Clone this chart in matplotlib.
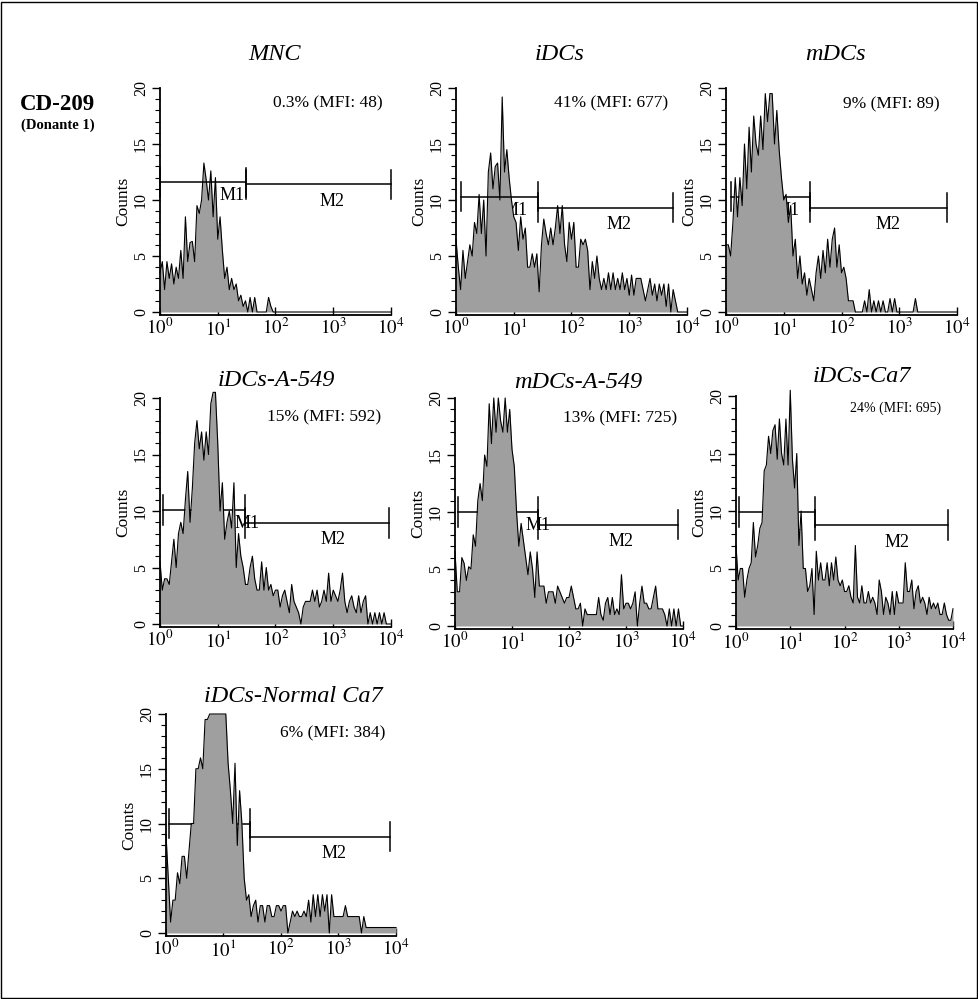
"""CD-209 flow cytometry histograms (Donante 1) - seven panels on a shared log axis."""

import matplotlib
matplotlib.use("Agg")
import matplotlib.pyplot as plt
import numpy as np
from matplotlib.patches import Rectangle
from matplotlib.ticker import FixedFormatter, FixedLocator, LogLocator, MultipleLocator, NullFormatter

plt.rcParams["font.family"] = ["Liberation Serif", "DejaVu Serif"]
plt.rcParams["mathtext.fontset"] = "stix"

# Counts per channel; the channels are evenly spaced on the log axis from 10^0 to 10^4.
mnc = [3.5, 4.5, 2, 4.5, 3, 4.3, 2.5, 4, 3, 5.5,
       3, 8.5, 4.5, 6.2, 6.3, 4.5, 9.5, 8.8, 10, 13.3,
       11.8, 10, 12.6, 8.5, 12, 6.5, 8.5, 5.5, 3, 4,
       2, 3, 2, 2.5, 1, 1.5, 0.5, 1, 0, 1.3,
       0, 1.3, 0, 0, 0, 0, 0, 1.3, 0.5, 0] + [0] * 51

idcs = [6.5, 4, 2, 5.5, 3, 4.5, 6, 5, 8, 7,
        10.5, 7, 10, 5, 12.5, 14.2, 11, 13, 13.3, 10,
        19.2, 12.5, 14.5, 12, 10, 8.5, 8, 5.5, 8.5, 6.5,
        7.5, 4, 4, 5.2, 4, 5.2, 1.8, 6, 8.3, 7,
        6, 7.5, 6, 7.5, 9.5, 7, 9.5, 6, 4.5, 8,
        6.5, 8, 4, 4, 6.5, 6, 6.5, 5.5, 2, 4.5,
        3, 5, 3, 2, 3, 2, 3.5, 2, 3.5, 2,
        3, 2, 3.5, 2, 3, 1.5, 3.3, 1.5, 3, 3,
        3, 2, 1, 2, 3, 1.5, 2.5, 1, 2.5, 1.5,
        2.5, 0.5, 2.5, 0, 2, 1, 0, 0, 0, 0, 0]

mdcs = [6, 6, 5, 8, 12, 8.5, 12, 9.5, 15, 11,
        16.5, 12.5, 17.5, 15, 14, 17.5, 14.5, 19.5, 17, 19.5,
        19.5, 15, 18, 14.5, 12, 10, 10.5, 8, 9.5, 5,
        6.5, 3, 5, 2.5, 3.5, 1.5, 3, 2, 1, 3.5,
        5, 3, 5.5, 3.5, 6.5, 4, 6.5, 7.5, 4, 6,
        3.5, 4, 3, 1, 1, 1, 0, 0, 0, 0,
        1, 0, 2, 0, 1, 0, 1, 0, 1, 0,
        0, 1.2, 0, 1.2, 0, 0, 0, 0, 0, 0,
        0, 0, 1.2, 0, 0, 0, 0, 0, 0, 0,
        0, 0, 0, 0, 0, 0, 0, 0, 0, 0, 0]

idcs_a549 = [5.5, 3, 4, 4, 3.5, 5.5, 7.5, 5, 8, 9,
             8, 11, 13.5, 9, 12, 16, 18, 15.5, 17, 14.5,
             17, 15, 19.5, 20.5, 20.5, 16, 10, 12.5, 7.5, 9,
             10, 8.5, 12.5, 5, 8, 6, 5, 3.5, 3.5, 5,
             6, 4, 3, 3, 5.5, 3, 5, 3, 3.5, 2.5,
             3, 3, 1.5, 2.5, 3, 2, 1, 3.5, 2, 1.5,
             1, 0, 1.5, 2, 2, 2, 3, 2, 3, 1.5,
             2, 3, 2, 4.5, 2, 3, 2.5, 2, 3, 4.5,
             2, 1, 2, 2.5, 1.5, 1, 2.5, 1, 2, 2.5,
             0, 1, 0, 1, 0, 1, 0, 1, 0, 0, 0]

mdcs_a549 = [6.5, 3, 3, 6, 5.5, 4, 5.2, 5, 8, 7,
             11, 12.5, 11, 15, 14, 19.5, 16, 20, 17, 20,
             18, 17, 20, 17, 19, 15.5, 14, 10, 7, 9,
             7.5, 6, 4.5, 6.5, 5, 2.5, 6.5, 3.5, 3.5, 3.5,
             2, 3, 3, 3, 2, 3.5, 3, 2.5, 2, 2.5,
             2.5, 3.5, 2.5, 1.5, 1.5, 2, 0, 1.5, 1, 1,
             1, 1, 1, 2.5, 1, 0.5, 2, 2.5, 1, 2.5,
             1, 1.5, 1, 4.5, 1.5, 2, 2, 1.5, 2, 3,
             0, 2, 3.5, 2, 2, 1.5, 1.5, 2.5, 3.5, 1.5,
             1.5, 1.5, 1, 0, 1.5, 0, 1.5, 0, 1.5, 0, 0]

idcs_ca7 = [7, 4, 5, 5, 2.5, 4, 5, 5.5, 9, 6,
            7, 8.5, 9, 13.5, 14, 16.5, 15, 17, 17.5, 14.5,
            18, 15, 14, 18, 14, 20.5, 14.5, 12, 15, 7,
            10, 5, 5, 3, 3.5, 5, 1, 6.5, 4, 5.5,
            4, 4, 5.5, 3.5, 5.5, 4, 6, 4, 3.5, 4,
            3, 3, 3.5, 2.5, 2, 7, 2.5, 2, 3.5, 2,
            2, 3, 2, 2.5, 2, 1, 4, 3, 1, 2.5,
            2, 1, 3, 1, 3, 2, 2, 2, 5.5, 3,
            3, 4, 1.5, 3, 3.5, 2, 2.5, 2, 1, 2.5,
            1.5, 2, 1.5, 2, 1, 1, 2, 1, 0.5, 0.5, 1.5]

idcs_normal_ca7 = [9, 5, 1, 3, 3, 5.5, 4.5, 7, 7, 5,
                   7.5, 10, 10, 15, 15, 16, 15, 19.5, 19.5, 20,
                   20, 20, 20, 20, 20, 20, 20, 15.5, 13, 10,
                   15.5, 8, 13, 10, 5, 3, 3.5, 1.5, 2.5, 3,
                   1, 2.5, 2.5, 1, 2.5, 2.5, 1.5, 1.5, 2.5, 2.5,
                   2, 2.5, 2.5, 0, 1, 2, 1.5, 2, 1.5, 1.5,
                   2, 1.5, 3, 1, 3.5, 1.5, 3.5, 1.5, 3.5, 2,
                   3.5, 0, 3.5, 1.5, 1.5, 1.5, 1.5, 1.5, 2.5, 1.5,
                   1.5, 1.5, 1.5, 1.5, 1.5, 0, 1.5, 0.5, 0.5, 0.5,
                   0.5, 0.5, 0.5, 0.5, 0.5, 0.5, 0.5, 0.5, 0.5, 0.5, 0.5]

titles = ["MNC", "iDCs", "mDCs", "iDCs-A-549", "mDCs-A-549", "iDCs-Ca7", "iDCs-Normal Ca7"]
stats = ["0.3% (MFI: 48)", "41% (MFI: 677)", "9% (MFI: 89)", "15% (MFI: 592)",
         "13% (MFI: 725)", "24% (MFI: 695)", "6% (MFI: 384)"]
series = [mnc, idcs, mdcs, idcs_a549, mdcs_a549, idcs_ca7, idcs_normal_ca7]

# marker gates (start, end, height) in fluorescence units / counts
m1_gates = [(1.0, 30.6, 11.6), (1.2, 26, 10.3), (1.2, 28.6, 10.3), (1.14, 30, 10.1),
            (1.11, 28.2, 10.0), (1.15, 29, 9.9), (1.11, 29.2, 10.0)]
m2_gates = [(30.6, 10000, 11.4), (26, 5700, 9.3), (28.6, 6700, 9.3), (30, 9100, 8.95),
            (28.2, 8050, 8.9), (29, 8100, 8.8), (29.2, 7900, 8.8)]

decade_ticks = [1, 10, 100, 1000, 10000]
decade_labels = [r"$10^{0}$", r"$10^{1}$", r"$10^{2}$", r"$10^{3}$", r"$10^{4}$"]

# ---- layout (pixels in the 979x999 canvas) ----
W, H = 979, 999
# left, y of count 20, right, y of count 0
boxes = [(160, 88, 391, 312), (456, 88, 687, 312), (726, 88, 957, 312),
         (160, 398, 391, 624), (455, 398, 683, 626), (736, 396, 953, 626),
         (166, 714, 396, 933)]
title_xy = [(275, 55), (560, 55), (835, 55), (276, 381), (578, 383), (862, 376), (293, 697)]
stat_xy = [(328, 103), (611, 103), (891, 104), (324, 417), (620, 418), (896, 408), (333, 733)]
stat_size = [12.5, 12.5, 12.5, 12.5, 12.5, 10, 12.5]
m1_label_dec = [1.24, 1.02, 1.05, 1.51, 1.46, 1.0, 1.0]
m2_label_dec = [2.97, 2.83, 2.8, 2.99, 2.92, 2.97, 2.92]
gate_on_top = [True, True, False, False, False, False, False]
YMIN = -0.3
FILL = "#9f9f9f"

fig = plt.figure(figsize=(W / 100, H / 100), dpi=100)


def add_panel(k):
    left, top, right, zero = boxes[k]
    per = (zero - top) / 20.0
    bottom = zero - YMIN * per
    ax = fig.add_axes([left / W, 1 - bottom / H, (right - left) / W, (bottom - top) / H])

    counts = np.asarray(series[k], dtype=float)
    x = 10 ** np.linspace(0, 4, len(counts))
    ax.fill_between(x, counts, 0, color=FILL, lw=0, zorder=2, clip_on=False)
    ax.plot(x, counts, color="black", lw=0.8, zorder=3, clip_on=False)

    gz = 4 if gate_on_top[k] else 1
    for (s, e, y) in (m1_gates[k], m2_gates[k]):
        ax.plot([s, e], [y, y], color="black", lw=1.1, zorder=gz, clip_on=False)
        for xe in (s, e):
            ax.plot([xe, xe], [y - 1.3, y + 1.3], color="black", lw=1.1, zorder=gz, clip_on=False)
    ax.text(10 ** m1_label_dec[k], m1_gates[k][2] - 1.2, "M1", ha="center", va="center",
            fontsize=13, zorder=1)
    ax.text(10 ** m2_label_dec[k], m2_gates[k][2] - 1.5, "M2", ha="center", va="center",
            fontsize=13, zorder=1)

    ax.set_xscale("log")
    ax.set_xlim(1, 10000)
    ax.set_ylim(YMIN, 20)
    ax.xaxis.set_major_locator(FixedLocator(decade_ticks))
    ax.xaxis.set_major_formatter(FixedFormatter(decade_labels))
    ax.xaxis.set_minor_locator(LogLocator(base=10, subs=range(2, 10)))
    ax.xaxis.set_minor_formatter(NullFormatter())
    ax.yaxis.set_major_locator(FixedLocator([0, 5, 10, 15, 20]))
    ax.yaxis.set_minor_locator(MultipleLocator(1))
    ax.tick_params(axis="x", which="major", direction="in", length=6, width=1,
                   labelsize=13.5, pad=2)
    ax.tick_params(axis="x", which="minor", direction="in", length=4, width=0.8)
    ax.tick_params(axis="y", which="major", direction="out", length=6, width=1,
                   labelsize=11.5, labelrotation=90, pad=2)
    ax.tick_params(axis="y", which="minor", direction="out", length=3.5, width=0.8)
    for lab in ax.get_yticklabels():
        lab.set_verticalalignment("center")
    for side in ("top", "right"):
        ax.spines[side].set_visible(False)
    for side in ("left", "bottom"):
        ax.spines[side].set_linewidth(1.3)
    ax.set_ylabel("Counts", fontsize=12.5, labelpad=1)

    tx, ty = title_xy[k]
    fig.text(tx / W, 1 - ty / H, titles[k], ha="center", va="center",
             fontsize=17.5, style="italic")
    sx, sy = stat_xy[k]
    fig.text(sx / W, 1 - sy / H, stats[k], ha="center", va="center", fontsize=stat_size[k])
    return ax


for k in range(len(series)):
    add_panel(k)

fig.text(58 / W, 1 - 104 / H, "CD-209", ha="center", va="center",
         fontsize=16.5, fontweight="bold")
fig.text(58 / W, 1 - 125 / H, "(Donante 1)", ha="center", va="center",
         fontsize=10.5, fontweight="bold")

# thin frame around the whole figure
fig.patches.append(Rectangle((1.5 / W, 1.5 / H), 1 - 3 / W, 1 - 3 / H, transform=fig.transFigure,
                             fill=False, edgecolor="black", lw=1))

fig.savefig("out.png", dpi=100)
